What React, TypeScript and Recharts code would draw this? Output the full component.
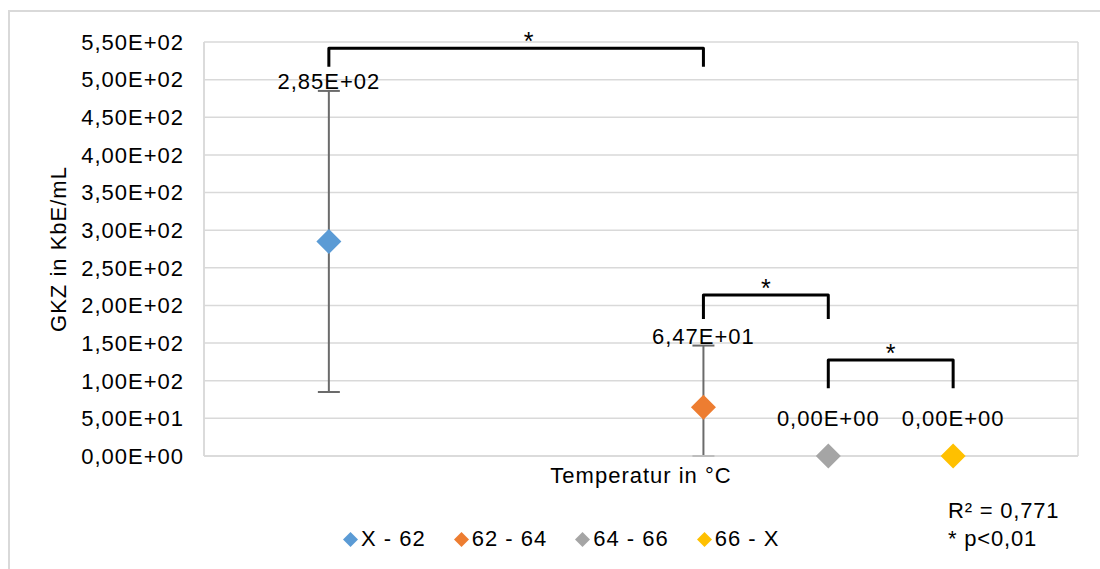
import React from 'react';
import { ScatterChart, Scatter, XAxis, YAxis, CartesianGrid, ErrorBar, Legend } from 'recharts';

// groups (temperature ranges) and their measured values
const groupNames = ['X - 62', '62 - 64', '64 - 66', '66 - X'];
const groupX = [1, 4, 5, 6];
const groupMeans = [285, 64.7, 0, 0];
const groupErrLow = [200, 64.7, 0, 0];
const groupErrHigh = [200, 82, 0, 0];
const groupColors = ['#5B9BD5', '#ED7D31', '#A5A5A5', '#FFC000'];

const xTicks = [0, 1, 2, 3, 4, 5, 6, 7];
const yTicks = [0, 50, 100, 150, 200, 250, 300, 350, 400, 450, 500, 550];

// significance brackets
const bracketFrom = [1, 4, 5];
const bracketTo = [4, 5, 6];
const bracketTop = [541.6, 214, 127.5];
const bracketLeg = [517, 182, 90];
const starX = [2.6, 4.5, 5.5];

const notes = ['R² = 0,771', '* p<0,01'];

const FONT = '"Liberation Sans", Arial, sans-serif';
const TEXT_STYLE = { fontFamily: FONT, fontSize: 22, fill: '#000', letterSpacing: 1 };

function fmtE(v: number) {
  if (v === 0) return '0,00E+00';
  const exp = Math.floor(Math.log10(Math.abs(v)));
  const mant = v / Math.pow(10, exp);
  const e = Math.abs(exp).toString().padStart(2, '0');
  return mant.toFixed(2).replace('.', ',') + 'E' + (exp >= 0 ? '+' : '-') + e;
}

const Diamond = (r: number, color: string) => (props: any) => {
  const { cx, cy } = props;
  if (cx == null || cy == null) return <g />;
  return <polygon points={`${cx},${cy - r} ${cx + r},${cy} ${cx},${cy + r} ${cx - r},${cy}`} fill={color} />;
};

const Empty = () => <g />;

const LabelShape = (props: any) => {
  const { cx, cy, payload } = props;
  return (
    <text x={cx} y={cy + payload.dy} textAnchor="middle" style={TEXT_STYLE}>
      {payload.text}
    </text>
  );
};

const StarShape = (props: any) => {
  const { cx, cy } = props;
  return (
    <text x={cx} y={cy + 2} textAnchor="middle" style={{ ...TEXT_STYLE, fontSize: 25, letterSpacing: 0 }}>
      *
    </text>
  );
};

const renderLegend = () => (
  <div style={{ display: 'flex', alignItems: 'center', fontFamily: FONT, fontSize: 22, letterSpacing: 1, color: '#000' }}>
    {groupNames.map((n, i) => (
      <div key={n} style={{ display: 'flex', alignItems: 'center', marginRight: 28 }}>
        <svg width={15} height={15} style={{ marginRight: 3 }}>
          <polygon points="7.5,0 15,7.5 7.5,15 0,7.5" fill={groupColors[i]} />
        </svg>
        <span>{n}</span>
      </div>
    ))}
  </div>
);

export default function App() {
  const groups = groupNames.map((name, i) => ({
    name,
    color: groupColors[i],
    data: [{ x: groupX[i], y: groupMeans[i], err: [groupErrLow[i], groupErrHigh[i]] }],
    hasErr: groupErrHigh[i] > 0,
  }));

  const labelData = groupNames.map((_, i) => ({
    x: groupX[i],
    y: groupMeans[i] + groupErrHigh[i],
    text: fmtE(groupMeans[i]),
    dy: groupErrHigh[i] > 0 ? -2 : -30,
  }));

  const starData = starX.map((x, i) => ({ x, y: bracketTop[i] }));

  return (
    <div style={{ position: 'absolute', left: 0, top: 0, width: 1100, height: 569, background: '#fff', overflow: 'hidden' }}>
      <div style={{ position: 'absolute', left: 8, top: 10, width: 1200, height: 700, borderTop: '2px solid #d9d9d9', borderLeft: '2px solid #d9d9d9' }} />
      <div style={{ position: 'absolute', left: 0, top: 0 }}>
        <ScatterChart width={1100} height={569} margin={{ top: 42, right: 22, bottom: 56, left: 0 }} style={{ fontFamily: FONT }}>
          <CartesianGrid stroke="#d9d9d9" strokeWidth={1.5} />
          <XAxis
            type="number"
            dataKey="x"
            domain={[0, 7]}
            ticks={xTicks}
            tick={false}
            tickLine={false}
            axisLine={{ stroke: '#d9d9d9', strokeWidth: 1.5 }}
            height={30}
            label={{ value: 'Temperatur in °C', position: 'insideBottom', offset: 3, style: TEXT_STYLE }}
          />
          <YAxis
            type="number"
            dataKey="y"
            domain={[0, 550]}
            ticks={yTicks}
            interval={0}
            width={204}
            tickLine={false}
            tickSize={0}
            tickMargin={20}
            tickFormatter={fmtE}
            tick={TEXT_STYLE}
            axisLine={{ stroke: '#d9d9d9', strokeWidth: 1.5 }}
            label={{ value: 'GKZ in KbE/mL', angle: -90, position: 'insideLeft', offset: 58, style: { ...TEXT_STYLE, textAnchor: 'middle' } }}
          />
          {bracketFrom.map((f, i) => (
            <Scatter
              key={'br' + i}
              data={[
                { x: f, y: bracketLeg[i] },
                { x: f, y: bracketTop[i] },
                { x: bracketTo[i], y: bracketTop[i] },
                { x: bracketTo[i], y: bracketLeg[i] },
              ]}
              line={{ stroke: '#000', strokeWidth: 3, strokeLinejoin: 'round' }}
              shape={Empty}
              legendType="none"
              isAnimationActive={false}
            />
          ))}
          <Scatter data={starData} shape={StarShape} legendType="none" isAnimationActive={false} />
          {groups.map((g) => (
            <Scatter key={g.name} name={g.name} data={g.data} fill={g.color} legendType="diamond" shape={Diamond(12.5, g.color)} isAnimationActive={false}>
              {g.hasErr && <ErrorBar dataKey="err" direction="y" width={11} stroke="#6b6b6b" strokeWidth={2} />}
            </Scatter>
          ))}
          <Scatter data={labelData} shape={LabelShape} legendType="none" isAnimationActive={false} />
          <Legend content={renderLegend} wrapperStyle={{ position: 'absolute', left: 343, top: 526, width: 'auto', height: 27 }} />
        </ScatterChart>
      </div>
      <div style={{ position: 'absolute', left: 948, top: 497, fontFamily: FONT, fontSize: 22, letterSpacing: 0.8, lineHeight: '28px', color: '#000' }}>
        {notes.map((t) => (
          <div key={t}>{t}</div>
        ))}
      </div>
    </div>
  );
}
